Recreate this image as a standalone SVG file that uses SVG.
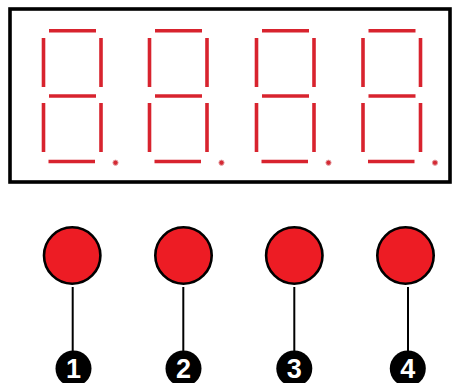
<svg xmlns="http://www.w3.org/2000/svg" xmlns:xlink="http://www.w3.org/1999/xlink" width="452" height="383" viewBox="0 0 452 383">
  <style>
    .seg { stroke: #d8232e; stroke-width: 3.6; stroke-linecap: butt; fill: none; }
    .dp { fill: #d42a34; stroke: #e6a0a4; stroke-width: 1; }
    .frame { fill: #ffffff; stroke: #000000; stroke-width: 3.6; }
    .btn { fill: #ed1c24; stroke: #000000; stroke-width: 2.6; }
    .wire { stroke: #000000; stroke-width: 2; fill: none; }
    .badge { fill: #000000; }
    .num { fill: #ffffff; font-family: "Liberation Sans", Arial, sans-serif; font-weight: bold; font-size: 27px; text-anchor: middle; }
  </style>
  <defs>
    <g id="digit">
      <line class="seg" x1="49" y1="30.7" x2="96" y2="30.7"/>
      <line class="seg" x1="43.5" y1="38" x2="43.5" y2="87"/>
      <line class="seg" x1="101" y1="38" x2="101" y2="87"/>
      <line class="seg" x1="49" y1="96" x2="96" y2="96"/>
      <line class="seg" x1="43.5" y1="103" x2="43.5" y2="152"/>
      <line class="seg" x1="101" y1="103" x2="101" y2="152"/>
      <line class="seg" x1="48.5" y1="161.5" x2="95" y2="161.5"/>
      <circle class="dp" cx="115.5" cy="162.7" r="2.6"/>
    </g>
  </defs>
  <rect width="452" height="383" fill="#ffffff"/>
  <g id="display">
    <rect class="frame" x="10" y="9" width="440" height="173"/>
  </g>
  <g id="digit1"><use xlink:href="#digit" href="#digit"/></g>
  <g id="digit2"><use xlink:href="#digit" href="#digit" transform="translate(106,0)"/></g>
  <g id="digit3"><use xlink:href="#digit" href="#digit" transform="translate(213,0)"/></g>
  <g id="digit4"><use xlink:href="#digit" href="#digit" transform="translate(319.5,0)"/></g>
  <g id="connectors">
    <line class="wire" x1="72.7" y1="287" x2="72.7" y2="352"/>
    <line class="wire" x1="183.3" y1="287" x2="183.3" y2="352"/>
    <line class="wire" x1="294.3" y1="287" x2="294.3" y2="352"/>
    <line class="wire" x1="408" y1="287" x2="408" y2="352"/>
  </g>
  <g id="button1"><circle class="btn" cx="72.2" cy="255.5" r="28.2"/></g>
  <g id="button2"><circle class="btn" cx="183.5" cy="255.5" r="28.2"/></g>
  <g id="button3"><circle class="btn" cx="294.3" cy="255.5" r="28.2"/></g>
  <g id="button4"><circle class="btn" cx="405.5" cy="255.5" r="28.2"/></g>
  <g id="badge1"><circle class="badge" cx="73.5" cy="368.5" r="18"/><text class="num" x="73.5" y="378">1</text></g>
  <g id="badge2"><circle class="badge" cx="183.5" cy="368.5" r="18"/><text class="num" x="183.5" y="378">2</text></g>
  <g id="badge3"><circle class="badge" cx="294.3" cy="368.5" r="18"/><text class="num" x="294.3" y="378">3</text></g>
  <g id="badge4"><circle class="badge" cx="407.8" cy="368.5" r="18"/><text class="num" x="407.8" y="378">4</text></g>
</svg>
